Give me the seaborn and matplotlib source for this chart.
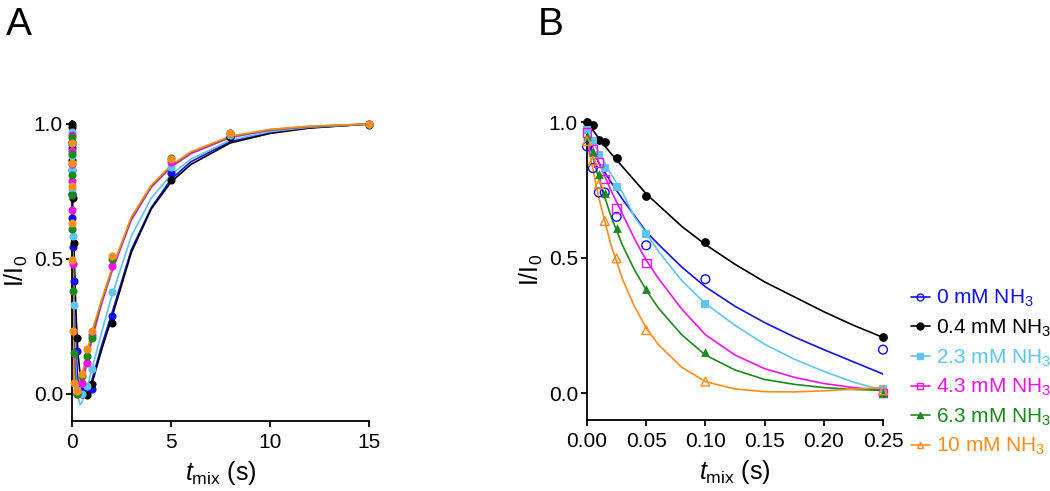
import numpy as np
import pandas as pd
import matplotlib
matplotlib.use("Agg")
import matplotlib.pyplot as plt
from matplotlib.lines import Line2D
import seaborn as sns

# ---------------- data ----------------
labels = ["0 mM NH$_3$", "0.4 mM NH$_3$", "2.3 mM NH$_3$",
          "4.3 mM NH$_3$", "6.3 mM NH$_3$", "10 mM NH$_3$"]
colors = ["#1010f0", "#000000", "#5ec4f0", "#f010f0", "#1a8a1a", "#ff8c1a"]

# measured points, short mixing times (panel B, also shown in A)
t_short = [0.0, 0.005, 0.01, 0.015, 0.025, 0.05, 0.1, 0.25]
y_short_0 = [0.91, 0.83, 0.74, 0.74, 0.65, 0.545, 0.42, 0.16]
y_short_04 = [1.0, 0.99, 0.935, 0.925, 0.866, 0.727, 0.558, 0.208]
y_short_23 = [0.97, 0.93, 0.88, 0.83, 0.76, 0.585, 0.33, 0.015]
y_short_43 = [0.96, 0.90, 0.85, 0.79, 0.68, 0.48, np.nan, 0.0]
y_short_63 = [0.95, 0.89, 0.81, 0.737, 0.61, 0.383, 0.152, 0.0]
y_short_10 = [0.93, 0.857, 0.77, 0.635, 0.497, 0.232, 0.042, 0.01]

# measured points, long mixing times (panel A only)
t_long = [0.5, 0.75, 1.0, 2.0, 5.0, 8.0, 15.0]
y_long_0 = [0.01, 0.005, 0.017, 0.29, 0.82, 0.953, 1.0]
y_long_04 = [0.0, -0.005, 0.036, 0.264, 0.793, 0.95, 0.995]
y_long_23 = [0.0, 0.03, 0.091, 0.378, 0.842, 0.96, 1.0]
y_long_43 = [0.042, 0.116, 0.22, 0.475, 0.86, 0.965, 1.0]
y_long_63 = [0.066, 0.14, 0.208, 0.50, 0.873, 0.965, 1.0]
y_long_10 = [0.075, 0.165, 0.233, 0.51, 0.87, 0.965, 1.0]

# fitted curves
t_fitB = [0, 0.01, 0.02, 0.03, 0.04, 0.05, 0.06, 0.08, 0.1, 0.125, 0.15, 0.175, 0.2, 0.225, 0.25]
fitB_0 = [0.93, 0.85, 0.78, 0.715, 0.655, 0.595, 0.55, 0.465, 0.392, 0.32, 0.26, 0.207, 0.16, 0.115, 0.07]
fitB_04 = [1.0, 0.94, 0.885, 0.835, 0.785, 0.735, 0.695, 0.615, 0.548, 0.475, 0.41, 0.355, 0.3, 0.25, 0.205]
fitB_23 = [0.97, 0.89, 0.81, 0.74, 0.65, 0.59, 0.525, 0.415, 0.33, 0.25, 0.18, 0.125, 0.08, 0.04, 0.01]
fitB_43 = [0.96, 0.85, 0.75, 0.66, 0.57, 0.49, 0.425, 0.31, 0.215, 0.14, 0.09, 0.058, 0.035, 0.02, 0.01]
fitB_63 = [0.95, 0.79, 0.655, 0.545, 0.455, 0.38, 0.315, 0.215, 0.14, 0.085, 0.05, 0.032, 0.02, 0.013, 0.01]
fitB_10 = [0.93, 0.72, 0.55, 0.42, 0.32, 0.24, 0.18, 0.095, 0.042, 0.015, 0.005, 0.004, 0.008, 0.014, 0.02]

# fitted curves
t_fitA = [0, 0.05, 0.1, 0.2, 0.3, 0.4, 0.5, 0.6, 0.75, 1, 1.5, 2, 3, 4, 5, 6, 8, 10, 12, 15]
fitA_0 = [0.93, 0.6, 0.392, 0.16, 0.05, 0.015, 0.0, -0.005, 0.0, 0.05, 0.18, 0.295, 0.535, 0.69, 0.795, 0.86, 0.935, 0.97, 0.986, 1.0]
fitA_04 = [1.0, 0.735, 0.548, 0.30, 0.15, 0.08, 0.02, -0.01, -0.01, 0.036, 0.165, 0.28, 0.525, 0.685, 0.785, 0.85, 0.93, 0.965, 0.985, 1.0]
fitA_23 = [0.97, 0.59, 0.33, 0.08, -0.01, -0.04, -0.03, -0.01, 0.02, 0.09, 0.23, 0.36, 0.585, 0.725, 0.812, 0.87, 0.94, 0.972, 0.988, 1.0]
fitA_43 = [0.96, 0.49, 0.215, 0.035, 0.005, 0.01, 0.035, 0.06, 0.115, 0.2, 0.335, 0.45, 0.645, 0.765, 0.84, 0.89, 0.95, 0.977, 0.99, 1.0]
fitA_63 = [0.95, 0.38, 0.14, 0.02, 0.02, 0.04, 0.065, 0.09, 0.14, 0.215, 0.345, 0.458, 0.652, 0.77, 0.845, 0.895, 0.953, 0.979, 0.991, 1.0]
fitA_10 = [0.93, 0.24, 0.042, 0.008, 0.03, 0.05, 0.075, 0.1, 0.155, 0.23, 0.35, 0.462, 0.656, 0.773, 0.847, 0.897, 0.955, 0.98, 0.992, 1.0]

ys_short = [y_short_0, y_short_04, y_short_23, y_short_43, y_short_63, y_short_10]
ys_long = [y_long_0, y_long_04, y_long_23, y_long_43, y_long_63, y_long_10]
fitsB = [fitB_0, fitB_04, fitB_23, fitB_43, fitB_63, fitB_10]
fitsA = [fitA_0, fitA_04, fitA_23, fitA_43, fitA_63, fitA_10]

markersB = ["o", "o", "s", "s", "^", "^"]
filledB = [False, True, True, False, True, False]

# ---------------- style ----------------
sns.set_theme(style="ticks")
plt.rcParams["font.family"] = ["Liberation Sans", "DejaVu Sans"]
plt.rcParams["mathtext.fontset"] = "custom"
plt.rcParams["mathtext.rm"] = "Liberation Sans"
plt.rcParams["mathtext.it"] = "Liberation Sans:italic"
plt.rcParams["mathtext.bf"] = "Liberation Sans:bold"
plt.rcParams["text.color"] = "black"
plt.rcParams["axes.labelcolor"] = "black"
plt.rcParams["xtick.color"] = "black"
plt.rcParams["ytick.color"] = "black"

fig = plt.figure(figsize=(10.5, 4.91), dpi=100)
axA = fig.add_axes([0.06857, 0.14257, 0.28286, 0.6104])
axB = fig.add_axes([0.55905, 0.1444, 0.2819, 0.6126])

lw = 1.2
for ax in (axA, axB):
    for s in ("top", "right"):
        ax.spines[s].set_visible(False)
    for s in ("left", "bottom"):
        ax.spines[s].set_linewidth(1.3)
        ax.spines[s].set_color("black")
    ax.tick_params(axis="both", direction="out", length=4.5, width=1.3,
                   labelsize=15, colors="black", pad=2)
    ax.tick_params(axis="x", pad=4)
    ax.set_ylim(-0.1, 1.01)
    ax.set_yticks([0.0, 0.5, 1.0])
    ax.set_yticklabels(["0.0", "0.5", "1.0"])
    ax.set_ylabel("I/I$_0$", fontsize=18, labelpad=3)
    ax.set_xlabel(r"$\mathit{t}_{\mathrm{mix}}$ (s)", fontsize=18, labelpad=5)

# ---------------- panel A ----------------
for i in range(6):
    sns.lineplot(x=t_fitA, y=fitsA[i], ax=axA, color=colors[i], linewidth=lw,
                 estimator=None, sort=False, zorder=2)
for i in range(6):
    tt = list(t_short) + list(t_long)
    yy = list(ys_short[i]) + list(ys_long[i])
    sns.scatterplot(x=tt, y=yy, ax=axA, color=colors[i], marker="o", s=34,
                    edgecolor=colors[i], linewidth=0, zorder=3, clip_on=False)
axA.set_xlim(0, 15)
axA.set_xticks([0, 5, 10, 15])

# ---------------- panel B ----------------
for i in range(6):
    sns.lineplot(x=t_fitB, y=fitsB[i], ax=axB, color=colors[i], linewidth=lw,
                 estimator=None, sort=False, zorder=2)
for i in range(6):
    if filledB[i]:
        sns.scatterplot(x=t_short, y=ys_short[i], ax=axB, color=colors[i],
                        marker=markersB[i], s=40, edgecolor=colors[i],
                        linewidth=0, zorder=3, clip_on=False)
    else:
        axB.scatter(t_short, ys_short[i], marker=markersB[i], s=40,
                    facecolors="none", edgecolors=colors[i], linewidths=1.0,
                    zorder=3, clip_on=False)
axB.set_xlim(0, 0.25)
axB.set_xticks([0.0, 0.05, 0.10, 0.15, 0.20, 0.25])
axB.set_xticklabels(["0.00", "0.05", "0.10", "0.15", "0.20", "0.25"])
for ax in (axA, axB):
    leg = ax.get_legend()
    if leg is not None:
        leg.remove()

handles = []
for i in range(6):
    handles.append(Line2D([0], [0], color=colors[i], linewidth=lw,
                          marker=markersB[i], markersize=5,
                          markerfacecolor=colors[i] if filledB[i] else "none",
                          markeredgecolor=colors[i], markeredgewidth=1.0))
fig.legend(handles, labels, loc="upper left", bbox_to_anchor=(0.8675, 0.4135),
           frameon=False, fontsize=15, handlelength=0.9, handletextpad=0.3,
           labelspacing=0.4, labelcolor=colors, borderaxespad=0, borderpad=0)

fig.text(0.006, 0.985, "A", fontsize=28, va="top", ha="left", color="black")
fig.text(0.512, 0.985, "B", fontsize=28, va="top", ha="left", color="black")

fig.savefig("out.png", dpi=100)
